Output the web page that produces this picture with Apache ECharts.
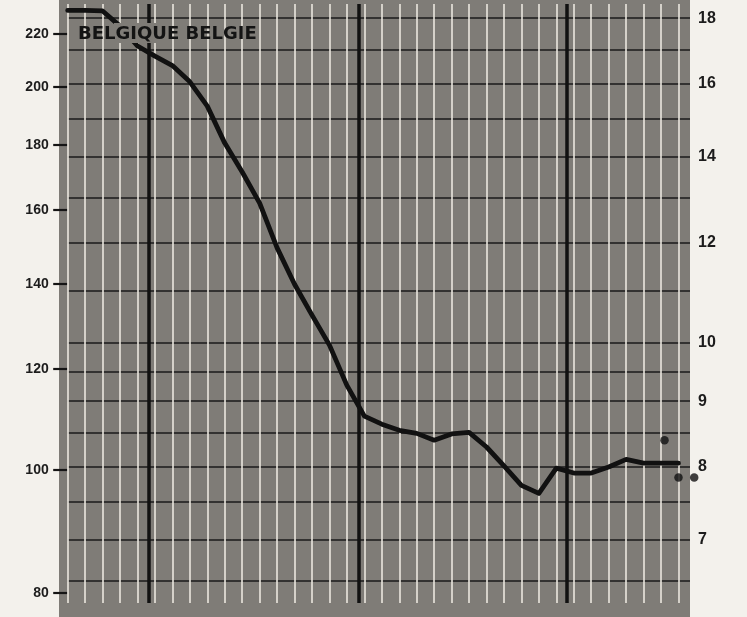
<!DOCTYPE html>
<html>
<head>
<meta charset="utf-8">
<script src="https://cdn.jsdelivr.net/npm/echarts@6/dist/echarts.min.js"></script>
<style>
html,body{margin:0;padding:0;background:#f3f1ec;}
#chart{width:747px;height:617px;}
</style>
</head>
<body>
<div id="chart"></div>
<script>
// x positions (monthly grid columns)
const periods = [0,1,2,3,4,5,6,7,8,9,10,11,12,13,14,15,16,17,18,19,20,21,22,23,24,25,26,27,28,29,30,31,32,33,34,35];
// index values (left scale)
const indexValues = [229.6,229.6,229.4,223.2,215.3,211.4,207.8,201.8,193.1,180.6,171.4,162.0,149.4,139.9,132.3,125.3,116.5,110.2,108.6,107.4,106.8,105.5,106.7,107.0,104.2,100.7,97.2,95.8,100.3,99.4,99.4,100.5,101.9,101.2,101.2,101.2];
// isolated dots
const dotX = [34.2, 35.0, 35.9];
const dotY = [105.5, 98.6, 98.6];
// year separators
const yearLines = [4.67, 16.67, 28.6];
// tick labels
const leftTicks = [80,100,120,140,160,180,200,220];
const rightTicks = [7,8,9,10,12,14,16,18];
// horizontal rulings (right scale)
const rulings = [18,17,16,15,14,13,12,11,10,9.5,9,8.5,8,7.5,7,6.5];
const title = 'BELGIQUE BELGIE';

const leftMin = 78.57, leftMax = 232.3;
const rightMin = 6.246, rightMax = 18.47;
const xMax = 35.66;

const GRAY = '#7f7c77';
const chart = echarts.init(document.getElementById('chart'), null, {renderer:'canvas'});

const option = {
  animation: false,
  backgroundColor: '#f3f1ec',
  grid: {left: 67.7, right: 57, top: 4, bottom: 14, containLabel: false},
  xAxis: {
    type: 'value', min: 0, max: xMax,
    axisLine: {show: false}, axisTick: {show: false}, axisLabel: {show: false},
    splitLine: {show: false}
  },
  yAxis: [
    {
      type: 'log', min: leftMin, max: leftMax, position: 'left',
      axisLine: {show: false},
      axisTick: {show: true, inside: false, length: 14.5, customValues: leftTicks,
        lineStyle: {color: '#151515', width: 2.2}},
      axisLabel: {show: true, customValues: leftTicks, margin: 19,
        formatter: v => String(Math.round(v)),
        color: '#1c1c1c', fontSize: 14, fontWeight: 'bold', fontFamily: 'Liberation Sans, Arial, sans-serif'},
      splitLine: {show: false}
    },
    {
      type: 'log', min: rightMin, max: rightMax, position: 'right',
      axisLine: {show: false},
      axisTick: {show: false},
      axisLabel: {show: true, customValues: rightTicks, margin: 8,
        formatter: v => String(Math.round(v)),
        color: '#1c1c1c', fontSize: 16, fontWeight: 'bold', fontFamily: 'Liberation Sans, Arial, sans-serif'},
      splitLine: {show: false}
    }
  ],
  graphic: [
    {type: 'rect', z: -10, silent: true, shape: {x: 59, y: 0, width: 631, height: 617}, style: {fill: GRAY}},
    {type: 'rect', z: 100, silent: true, shape: {x: 114, y: 23, width: 42, height: 20}, style: {fill: GRAY}},
    {type: 'text', z: 101, silent: true, x: 78, y: 25,
      style: {text: title, fill: '#141414', font: 'bold 18px "DejaVu Sans", sans-serif', textVerticalAlign: 'top'}}
  ],
  series: [
    {
      name: 'rulings', type: 'line', yAxisIndex: 1, data: [], silent: true,
      markLine: {
        silent: true, symbol: ['none','none'], label: {show: false}, animation: false,
        lineStyle: {color: '#1a1a1a', width: 1.6, type: 'solid'},
        data: rulings.map(v => ({yAxis: v}))
      }
    },
    {
      name: 'columns', type: 'line', data: [], silent: true,
      markLine: {
        silent: true, symbol: ['none','none'], label: {show: false}, animation: false,
        lineStyle: {color: '#ebe7df', width: 1.6, type: 'solid'},
        data: periods.map(p => ({xAxis: p}))
      }
    },
    {
      name: 'years', type: 'line', data: [], silent: true, z: 3,
      markLine: {
        silent: true, symbol: ['none','none'], label: {show: false}, animation: false,
        lineStyle: {color: '#111', width: 3.5, type: 'solid'},
        data: yearLines.map(p => ({xAxis: p}))
      }
    },
    {
      name: 'index', type: 'line', z: 5,
      data: periods.map((p, i) => [p, indexValues[i]]),
      showSymbol: false, symbol: 'none',
      lineStyle: {color: '#111', width: 4.8, join: 'round', cap: 'round'}
    },
    {
      name: 'dots', type: 'scatter', z: 6, clip: false,
      data: dotX.map((x, i) => [x, dotY[i]]),
      symbolSize: 8.5, itemStyle: {color: '#111'}
    }
  ]
};
chart.setOption(option);
</script>
</body>
</html>
